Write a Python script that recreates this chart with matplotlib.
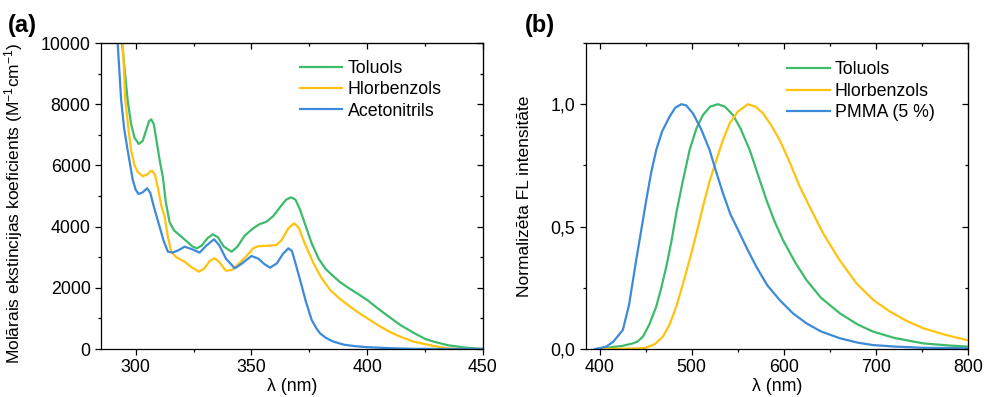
import matplotlib
matplotlib.use("Agg")
import matplotlib.pyplot as plt
from matplotlib.ticker import MultipleLocator, FuncFormatter

plt.rcParams['font.family'] = ['Liberation Sans', 'DejaVu Sans']
plt.rcParams['mathtext.default'] = 'regular'

GREEN = '#3dbb6b'
YELLOW = '#ffc20e'
BLUE = '#3c8ad8'

# (a) absorption, wavelength in nm, molar extinction in M^-1 cm^-1
tol_abs_x = [290, 292, 294.1, 295, 296.5, 298, 299.5, 301.3, 303, 304.5, 305.8, 306.7, 307.8, 309,
             310.5, 311.7, 313, 314.6, 316.5, 319.7, 322, 324.5, 326.4, 328.5, 331, 333.3, 335.5,
             338, 341.4, 344, 347, 350.7, 353.5, 356.5, 359.5, 362.5, 365, 367.1, 369, 371, 373.5,
             376, 379, 382, 384, 388, 392, 396, 400, 405, 410, 414.3, 420, 425, 428.7, 435, 443, 450]
tol_abs_y = [12500, 11000, 10000, 9300, 8137, 7350, 6900, 6700, 6800, 7150, 7450, 7506, 7350, 6800,
             6100, 5630, 4800, 4150, 3880, 3670, 3520, 3350, 3290, 3380, 3620, 3748, 3650,
             3350, 3180, 3350, 3700, 3944, 4080, 4160, 4350, 4650, 4880, 4958, 4880, 4550, 4000,
             3454, 2950, 2620, 2473, 2200, 1990, 1800, 1601, 1300, 1020, 784, 530, 330, 240, 120, 40, 5]

clb_abs_x = [290, 292, 294.4, 295.5, 297, 298, 299.5, 300.9, 303, 305, 306.2, 307.1, 308.3, 309.5,
             311, 312.5, 313.8, 315.3, 317.5, 321.1, 324, 327.3, 329.5, 332, 334.1, 336, 338.9,
             341.5, 344, 347.4, 350.7, 353, 355, 358, 360.8, 363, 366, 368.4, 370.5, 373, 376.8,
             380, 384, 388, 392, 396, 400, 405, 410, 414.3, 420, 428.7, 435, 440, 450]
clb_abs_y = [12500, 11200, 10000, 8137, 7100, 6500, 6000, 5780, 5650, 5700, 5800, 5820, 5700, 5300,
             4700, 4325, 3700, 3180, 3000, 2853, 2680, 2527, 2620, 2880, 2963, 2850, 2560,
             2580, 2750, 3000, 3290, 3360, 3366, 3380, 3400, 3560, 3950, 4107, 3950, 3450, 2800,
             2350, 1928, 1650, 1420, 1200, 1003, 760, 550, 402, 240, 100, 20, 0, 0]

acn_abs_x = [289, 291, 292.2, 293.7, 295, 296.5, 298.7, 300, 301.3, 303, 304.9, 306.3, 308, 310.3,
             312, 313.9, 316, 318.5, 321.1, 324, 327.6, 330.5, 333.8, 336, 339, 342.8, 346, 350,
             353, 355.5, 358, 361, 363.5, 365.9, 367.5, 369, 371, 373.5, 376, 378, 379.6, 382,
             385.4, 390, 395, 400, 410, 420, 450]
acn_abs_y = [13000, 11200, 10000, 8137, 7200, 6500, 5535, 5200, 5065, 5120, 5250, 5100, 4600, 4000,
             3550, 3180, 3150, 3230, 3343, 3270, 3150, 3380, 3585, 3400, 2950, 2637, 2800, 3040,
             2950, 2780, 2657, 2800, 3100, 3290, 3200, 2800, 2255, 1550, 948, 680, 513, 370,
             240, 140, 90, 60, 25, 5, 0]

# (b) normalised fluorescence
tol_fl_x = [397, 410, 425, 436.2, 441, 447, 454, 461.5, 467, 472.4, 478, 483.3, 490, 497.7, 505,
            512.2, 520, 528.4, 536, 544.7, 553, 562.9, 572, 581, 590, 599, 612, 624.4, 640,
            660.6, 680, 696.7, 720, 751, 780, 800]
tol_fl_y = [0.0, 0.006, 0.013, 0.023, 0.03, 0.05, 0.1, 0.173, 0.25, 0.336, 0.44, 0.555, 0.68, 0.813, 0.9,
            0.956, 0.99, 1.0, 0.99, 0.956, 0.9, 0.813, 0.71, 0.609, 0.52, 0.445, 0.355, 0.282, 0.21,
            0.146, 0.1, 0.071, 0.045, 0.023, 0.014, 0.01]

clb_fl_x = [400, 440, 450, 460, 468.7, 476, 483.3, 490, 497.7, 505, 512.2, 519, 526.7, 534, 541.2,
            550, 561, 569, 577.3, 586, 595.4, 606, 617.2, 630, 642.5, 660, 678.7, 697, 714.9,
            733, 751, 775, 800]
clb_fl_y = [0.0, 0.002, 0.005, 0.02, 0.05, 0.1, 0.173, 0.26, 0.364, 0.47, 0.582, 0.68, 0.772, 0.855, 0.922,
            0.97, 1.0, 0.99, 0.963, 0.915, 0.854, 0.765, 0.663, 0.565, 0.473, 0.365, 0.268, 0.2, 0.153,
            0.115, 0.085, 0.058, 0.035]

pmma_fl_x = [395, 400, 407.3, 415, 425.3, 432, 439.8, 445, 450.7, 456, 461.5, 468, 476, 482, 488.7,
             494, 501.3, 510, 519.4, 526, 533.9, 542, 552, 560, 570.1, 582, 595.4, 610, 624.4,
             640, 660.6, 680, 696.7, 720, 750, 800]
pmma_fl_y = [0.0, 0.003, 0.01, 0.03, 0.078, 0.18, 0.364, 0.48, 0.609, 0.72, 0.813, 0.89, 0.949, 0.985, 1.0,
             0.995, 0.963, 0.9, 0.813, 0.73, 0.636, 0.55, 0.473, 0.41, 0.336, 0.26, 0.2, 0.145, 0.105,
             0.072, 0.044, 0.026, 0.016, 0.01, 0.005, 0.003]

FS = 12.8
LW = 1.6

fig = plt.figure(figsize=(9.85, 3.97), dpi=100)
ax1 = fig.add_axes([101 / 985, 48 / 397, 382 / 985, 306 / 397])
ax2 = fig.add_axes([585.7 / 985, 48 / 397, 382.6 / 985, 306 / 397])


def style_axes(ax, xmaj, xmin, ymaj, ymin):
    ax.xaxis.set_major_locator(MultipleLocator(xmaj))
    ax.xaxis.set_minor_locator(MultipleLocator(xmin))
    ax.yaxis.set_major_locator(MultipleLocator(ymaj))
    ax.yaxis.set_minor_locator(MultipleLocator(ymin))
    ax.tick_params(which='both', direction='out', labelsize=FS, width=0.9, pad=3)
    ax.tick_params(which='major', length=4.5)
    ax.tick_params(which='minor', length=2.5)
    for s in ax.spines.values():
        s.set_linewidth(0.9)
    # inward ticks on top and right, no labels
    top = ax.secondary_xaxis('top')
    top.xaxis.set_major_locator(MultipleLocator(xmaj))
    top.xaxis.set_minor_locator(MultipleLocator(xmin))
    top.tick_params(which='both', direction='in', labeltop=False, width=0.9)
    top.tick_params(which='major', length=4.5)
    top.tick_params(which='minor', length=2.5)
    right = ax.secondary_yaxis('right')
    right.yaxis.set_major_locator(MultipleLocator(ymaj))
    right.yaxis.set_minor_locator(MultipleLocator(ymin))
    right.tick_params(which='both', direction='in', labelright=False, width=0.9)
    right.tick_params(which='major', length=4.5)
    right.tick_params(which='minor', length=2.5)


# panel a
ax1.plot(tol_abs_x, tol_abs_y, color=GREEN, lw=LW, label='Toluols')
ax1.plot(clb_abs_x, clb_abs_y, color=YELLOW, lw=LW, label='Hlorbenzols')
ax1.plot(acn_abs_x, acn_abs_y, color=BLUE, lw=LW, label='Acetonitrils')
ax1.set_xlim(285, 450)
ax1.set_ylim(0, 10000)
style_axes(ax1, 50, 25, 2000, 1000)
ax1.set_xlabel('λ (nm)', fontsize=FS, labelpad=1)
ax1.set_ylabel('Molārais ekstincijas koeficients (M$^{-1}$cm$^{-1}$)', fontsize=12.5)
ax1.yaxis.set_label_coords(-0.2, 0.475)
ax1.legend(loc='upper left', bbox_to_anchor=(0.52, 0.945), frameon=False, fontsize=FS,
           handlelength=2.4, handletextpad=0.3, labelspacing=0.25, borderpad=0, borderaxespad=0)

# panel b
ax2.plot(tol_fl_x, tol_fl_y, color=GREEN, lw=LW, label='Toluols')
ax2.plot(clb_fl_x, clb_fl_y, color=YELLOW, lw=LW, label='Hlorbenzols')
ax2.plot(pmma_fl_x, pmma_fl_y, color=BLUE, lw=LW, label='PMMA (5 %)')
ax2.set_xlim(385, 800)
ax2.set_ylim(0, 1.25)
style_axes(ax2, 100, 50, 0.5, 0.25)
ax2.yaxis.set_major_formatter(FuncFormatter(lambda v, p: f'{v:.1f}'.replace('.', ',')))
ax2.set_xlabel('λ (nm)', fontsize=FS, labelpad=1)
ax2.set_ylabel('Normalizēta FL intensitāte', fontsize=12.5)
ax2.yaxis.set_label_coords(-0.14, 0.5)
ax2.legend(loc='upper left', bbox_to_anchor=(0.526, 0.94), frameon=False, fontsize=FS,
           handlelength=2.4, handletextpad=0.3, labelspacing=0.25, borderpad=0, borderaxespad=0)

fig.text(8 / 985, 1 - 32 / 397, '(a)', fontsize=17, fontweight='bold')
fig.text(525 / 985, 1 - 32 / 397, '(b)', fontsize=17, fontweight='bold')

fig.savefig('out.png', dpi=100)
